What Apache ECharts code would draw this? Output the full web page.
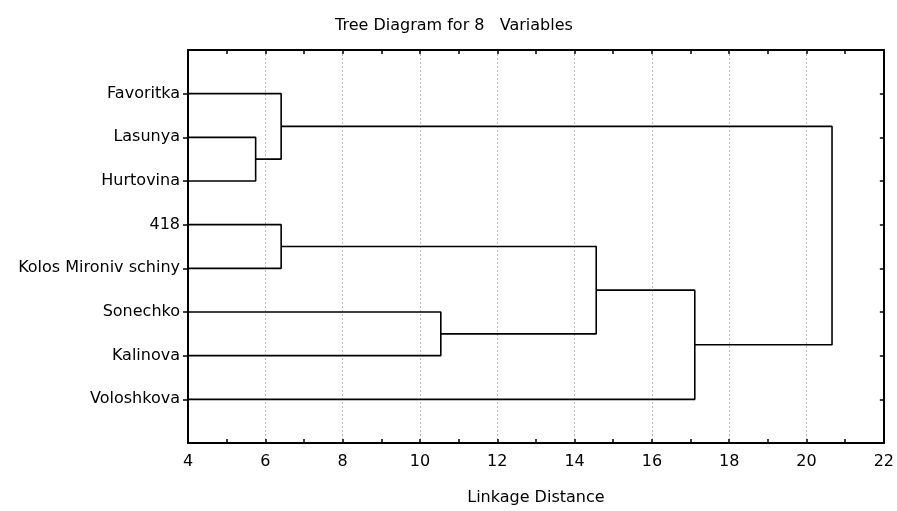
<!DOCTYPE html>
<html>
<head>
<meta charset="utf-8">
<script src="https://cdn.jsdelivr.net/npm/echarts@6/dist/echarts.min.js"></script>
<style>
  html, body { margin: 0; padding: 0; background: #fff; }
  #chart { width: 897px; height: 511px; }
</style>
</head>
<body>
<div id="chart"></div>
<script>
"use strict";

// leaves, top to bottom
var leafNames = ["Favoritka", "Lasunya", "Hurtovina", "418", "Kolos Mironiv schiny",
                 "Sonechko", "Kalinova", "Voloshkova"];
// merges: ids 0..7 are leaves, 8.. are the clusters made below, in order
var mergeA = [1, 0, 3, 5, 10, 12, 9];
var mergeB = [2, 8, 4, 6, 11, 7, 13];
var mergeHeight = [5.75, 6.41, 6.41, 10.54, 14.56, 17.11, 20.66];
var xTicks = [4, 6, 8, 10, 12, 14, 16, 18, 20, 22];
var rowTicks = [1, 2, 3, 4, 5, 6, 7, 8];

var FONT = "'DejaVu Sans', sans-serif";
var FONT_SIZE = 16;
var AXIS_MIN = 4;

(function (echarts) {
    var chart = echarts.init(document.getElementById("chart"));

    // node positions: x = linkage distance, y = row (1 based)
    var nodeX = [], nodeY = [];
    leafNames.forEach(function (_, i) {
        nodeX.push(AXIS_MIN);
        nodeY.push(i + 1);
    });

    var series = [];
    mergeA.forEach(function (a, i) {
        var b = mergeB[i], h = mergeHeight[i];
        series.push({
            type: "line",
            xAxisIndex: 0,
            yAxisIndex: 0,
            symbol: "none",
            silent: true,
            animation: false,
            lineStyle: { color: "#000", width: 1.6 },
            data: [
                [nodeX[a], nodeY[a]],
                [h, nodeY[a]],
                [h, nodeY[b]],
                [nodeX[b], nodeY[b]]
            ]
        });
        nodeX.push(h);
        nodeY.push((nodeY[a] + nodeY[b]) / 2);
    });

    var frameLine = { show: true, onZero: false, lineStyle: { color: "#000", width: 2 } };
    var tickStyle = { color: "#000", width: 1.5 };

    var option = {
        backgroundColor: "#fff",
        animation: false,
        title: {
            text: "Tree Diagram for 8   Variables",
            left: 330,
            top: 13,
            textStyle: { fontFamily: FONT, fontSize: FONT_SIZE, fontWeight: "normal", color: "#000" }
        },
        grid: { left: 188, right: 10, top: 50, bottom: 63 },
        xAxis: [
            {
                type: "value",
                position: "bottom",
                min: 4,
                max: 22,
                interval: 2,
                name: "Linkage Distance",
                nameLocation: "middle",
                nameGap: 47,
                nameTextStyle: { fontFamily: FONT, fontSize: FONT_SIZE, color: "#000" },
                axisLine: frameLine,
                axisTick: { show: true, inside: true, length: 4, lineStyle: tickStyle },
                minorTick: { show: true, splitNumber: 2, length: 4, lineStyle: tickStyle },
                axisLabel: {
                    margin: 11,
                    fontFamily: FONT, fontSize: FONT_SIZE, color: "#000",
                    customValues: xTicks
                },
                splitLine: { show: true, lineStyle: { color: "#bdbdbd", type: [2, 2], width: 1 } }
            },
            {
                type: "value",
                position: "top",
                min: 4,
                max: 22,
                interval: 2,
                axisLine: frameLine,
                axisTick: { show: true, inside: true, length: 4, lineStyle: tickStyle },
                minorTick: { show: true, splitNumber: 2, length: 4, lineStyle: tickStyle },
                axisLabel: { show: false },
                splitLine: { show: false }
            }
        ],
        yAxis: [
            {
                type: "value",
                position: "left",
                inverse: true,
                min: 0,
                max: 9,
                interval: 1,
                axisLine: frameLine,
                axisTick: { show: true, inside: false, length: 5, lineStyle: tickStyle, customValues: rowTicks },
                axisLabel: {
                    margin: 8,
                    fontFamily: FONT, fontSize: FONT_SIZE, color: "#000",
                    customValues: rowTicks,
                    formatter: function (v) {
                        return leafNames[v - 1] || "";
                    }
                },
                splitLine: { show: false }
            },
            {
                type: "value",
                position: "right",
                inverse: true,
                min: 0,
                max: 9,
                interval: 1,
                axisLine: frameLine,
                axisTick: { show: true, inside: true, length: 4, lineStyle: tickStyle, customValues: rowTicks },
                axisLabel: { show: false },
                splitLine: { show: false }
            }
        ],
        series: series
    };

    chart.setOption(option);
}(echarts));
</script>
</body>
</html>
